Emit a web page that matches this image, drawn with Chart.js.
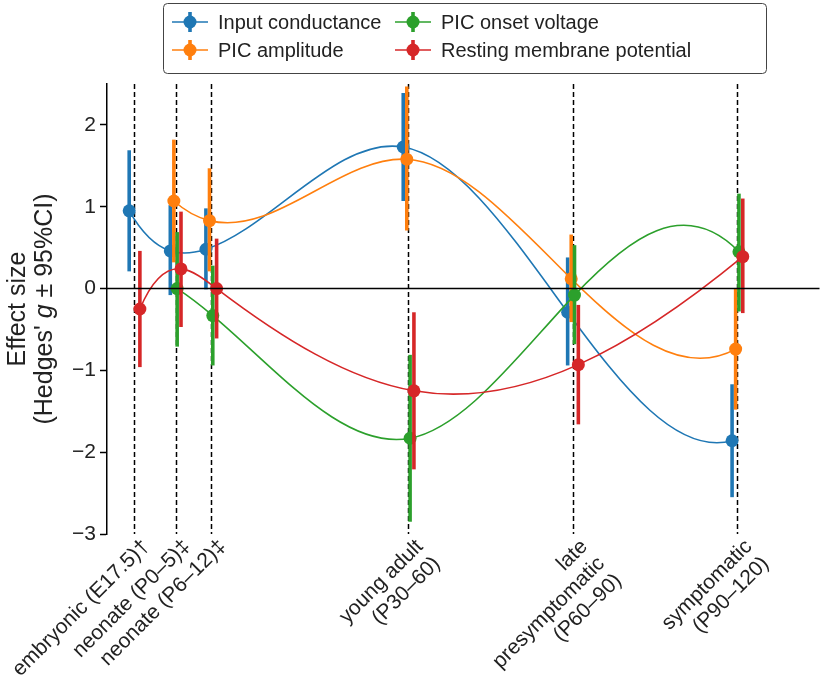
<!DOCTYPE html>
<html>
<head>
<meta charset="utf-8">
<script src="https://cdn.jsdelivr.net/npm/chart.js@4.4.1/dist/chart.umd.min.js"></script>
<style>
  html, body { margin: 0; padding: 0; background: #fff; }
  #wrap { width: 826px; height: 676px; }
</style>
</head>
<body>
<div id="wrap"><canvas id="myChart" width="826" height="676"></canvas></div>
<script>
// stages, x = rough age in days
const stageX = [-5, 2.5, 9, 45, 75, 105];
const stageLabels = [
  ['embryonic (E17.5)†'],
  ['neonate (P0–5)‡'],
  ['neonate (P6–12)‡'],
  ['young adult', '(P30–60)'],
  ['late', 'presymptomatic', '(P60–90)'],
  ['symptomatic', '(P90–120)']
];
const yTicks = [-3, -2, -1, 0, 1, 2];

// Hedges' g with 95% CI (null = not measured)
const inputG  = [0.95, 0.46, 0.48, 1.73, -0.29, -1.86];
const inputLo = [0.21, -0.08, -0.01, 1.07, -0.94, -2.55];
const inputHi = [1.69, 1.02, 0.98, 2.39, 0.38, -1.17];

const ampG  = [null, 1.07, 0.83, 1.58, 0.12, -0.74];
const ampLo = [null, 0.32, 0.21, 0.71, -0.41, -1.48];
const ampHi = [null, 1.82, 1.47, 2.47, 0.66, 0.00];

const onsetG  = [null, 0.00, -0.33, -1.83, -0.08, 0.45];
const onsetLo = [null, -0.71, -0.94, -2.85, -0.68, -0.28];
const onsetHi = [null, 0.69, 0.28, -0.81, 0.53, 1.16];

const rmpG  = [-0.25, 0.24, 0.00, -1.25, -0.93, 0.39];
const rmpLo = [-0.96, -0.47, -0.61, -2.21, -1.66, -0.30];
const rmpHi = [0.46, 0.94, 0.61, -0.29, -0.20, 1.10];

const FONT = '"Liberation Sans", Arial, Helvetica, sans-serif';
const dodge = [-0.95, -0.3, 0.3, 1.0];

const series = [
  { label: 'Input conductance', g: inputG, lo: inputLo, hi: inputHi, color: '#1f77b4' },
  { label: 'PIC amplitude', g: ampG, lo: ampLo, hi: ampHi, color: '#ff7f0e' },
  { label: 'PIC onset voltage', g: onsetG, lo: onsetLo, hi: onsetHi, color: '#2ca02c' },
  { label: 'Resting membrane potential', g: rmpG, lo: rmpLo, hi: rmpHi, color: '#d62728' }
];

function makeData(s, k) {
  let pts = [];
  for (let i = 0; i < stageX.length; i++) {
    if (s.g[i] === null) continue;
    pts.push({ x: stageX[i] + dodge[k], y: s.g[i], lo: s.lo[i], hi: s.hi[i] });
  }
  return pts;
}

const datasets = series.map((s, k) => ({
  label: s.label,
  data: makeData(s, k),
  borderColor: s.color,
  backgroundColor: s.color,
  borderWidth: 1.6,
  tension: 0.4,
  pointRadius: 6.5,
  pointBorderWidth: 0,
  pointBackgroundColor: s.color,
  order: 3 - k
}));

// small dense solver
function solve(A, b) {
  const n = b.length;
  for (let c = 0; c < n; c++) {
    let p = c;
    for (let r = c + 1; r < n; r++) if (Math.abs(A[r][c]) > Math.abs(A[p][c])) p = r;
    [A[c], A[p]] = [A[p], A[c]];
    [b[c], b[p]] = [b[p], b[c]];
    for (let r = c + 1; r < n; r++) {
      const f = A[r][c] / A[c][c];
      for (let k = c; k < n; k++) A[r][k] -= f * A[c][k];
      b[r] -= f * b[c];
    }
  }
  const x = new Array(n).fill(0);
  for (let r = n - 1; r >= 0; r--) {
    let s = b[r];
    for (let k = r + 1; k < n; k++) s -= A[r][k] * x[k];
    x[r] = s / A[r][r];
  }
  return x;
}

// not-a-knot cubic spline slopes through the point elements (pixel space)
function splineSlopes(xs, ys) {
  const n = xs.length;
  const h = [], dl = [];
  for (let i = 0; i < n - 1; i++) {
    h.push(xs[i + 1] - xs[i]);
    dl.push((ys[i + 1] - ys[i]) / h[i]);
  }
  let M = new Array(n).fill(0);
  if (n > 3) {
    const A = [], b = [];
    for (let i = 0; i < n; i++) { A.push(new Array(n).fill(0)); b.push(0); }
    A[0][0] = h[1]; A[0][1] = -(h[0] + h[1]); A[0][2] = h[0];
    for (let i = 1; i < n - 1; i++) {
      A[i][i - 1] = h[i - 1];
      A[i][i] = 2 * (h[i - 1] + h[i]);
      A[i][i + 1] = h[i];
      b[i] = 6 * (dl[i] - dl[i - 1]);
    }
    const m = n - 1;
    A[m][m - 2] = h[m - 1]; A[m][m - 1] = -(h[m - 2] + h[m - 1]); A[m][m] = h[m - 2];
    M = solve(A, b);
  }
  const s = [];
  for (let i = 0; i < n - 1; i++) s.push(dl[i] - h[i] * (2 * M[i] + M[i + 1]) / 6);
  const k = n - 1;
  s.push(dl[k - 1] + h[k - 1] * (M[k - 1] + 2 * M[k]) / 6);
  return s;
}

// error bars + smooth curve control points, per dataset
const errorBars = {
  id: 'errorBars',
  beforeDatasetDraw(chart, args) {
    const ctx = chart.ctx;
    const meta = args.meta;
    const ds = chart.data.datasets[args.index];
    const xs = chart.scales.x, ys = chart.scales.y;

    meta.dataset.updateControlPoints(chart.chartArea, 'x');
    const pts = meta.data;
    const px = pts.map(p => p.x), py = pts.map(p => p.y);
    const sl = splineSlopes(px, py);
    pts.forEach((p, i) => {
      const hl = i > 0 ? (px[i] - px[i - 1]) / 3 : 0;
      const hr = i < pts.length - 1 ? (px[i + 1] - px[i]) / 3 : 0;
      p.cp1x = px[i] - hl; p.cp1y = py[i] - sl[i] * hl;
      p.cp2x = px[i] + hr; p.cp2y = py[i] + sl[i] * hr;
    });

    ctx.save();
    ctx.strokeStyle = ds.borderColor;
    ctx.lineWidth = 3.6;
    ds.data.forEach(p => {
      const x = xs.getPixelForValue(p.x);
      ctx.beginPath();
      ctx.moveTo(x, ys.getPixelForValue(p.lo));
      ctx.lineTo(x, ys.getPixelForValue(p.hi));
      ctx.stroke();
    });
    ctx.restore();
  }
};

// dashed stage lines, zero line, stage labels, y title, legend
const decorations = {
  id: 'decorations',
  beforeDatasetsDraw(chart) {
    const ctx = chart.ctx, a = chart.chartArea, xs = chart.scales.x;
    ctx.save();
    ctx.strokeStyle = '#000';
    ctx.lineWidth = 1.5;
    ctx.setLineDash([5, 3]);
    stageX.forEach(v => {
      const px = Math.round(xs.getPixelForValue(v)) + 0.5;
      ctx.beginPath();
      ctx.moveTo(px, a.top);
      ctx.lineTo(px, a.bottom);
      ctx.stroke();
    });
    ctx.restore();
  },
  afterDatasetsDraw(chart) {
    const ctx = chart.ctx, a = chart.chartArea, ys = chart.scales.y;
    const y0 = ys.getPixelForValue(0);
    ctx.save();
    ctx.strokeStyle = '#000';
    ctx.lineWidth = 1.6;
    ctx.beginPath();
    ctx.moveTo(a.left, y0);
    ctx.lineTo(a.right, y0);
    ctx.stroke();
    ctx.restore();
  },
  afterDraw(chart) {
    const ctx = chart.ctx, a = chart.chartArea, xs = chart.scales.x;
    ctx.save();
    ctx.fillStyle = '#222';

    // stage labels, rotated 45 deg
    ctx.font = '21px ' + FONT;
    ctx.textAlign = 'right';
    ctx.textBaseline = 'top';
    stageLabels.forEach((lines, i) => {
      const px = xs.getPixelForValue(stageX[i]);
      ctx.save();
      ctx.translate(px + 4, a.bottom + 2);
      ctx.rotate(-Math.PI / 4);
      lines.forEach((t, j) => ctx.fillText(t, 0, j * 24));
      ctx.restore();
    });

    // y title with italic g
    const cy = (a.top + a.bottom) / 2;
    ctx.save();
    ctx.translate(0, cy);
    ctx.rotate(-Math.PI / 2);
    ctx.textBaseline = 'alphabetic';
    ctx.textAlign = 'center';
    ctx.font = '25px ' + FONT;
    ctx.fillText('Effect size', 0, 25);
    const p1 = '(Hedges\' ', p2 = 'g', p3 = ' ± 95%CI)';
    const w1 = ctx.measureText(p1).width, w3 = ctx.measureText(p3).width;
    ctx.font = 'italic 25px ' + FONT;
    const w2 = ctx.measureText(p2).width;
    let x = -(w1 + w2 + w3) / 2;
    ctx.textAlign = 'left';
    ctx.font = '25px ' + FONT;
    ctx.fillText(p1, x, 52);
    ctx.font = 'italic 25px ' + FONT;
    ctx.fillText(p2, x + w1, 52);
    ctx.font = '25px ' + FONT;
    ctx.fillText(p3, x + w1 + w2, 52);
    ctx.restore();

    // legend box, two columns
    const bx = 163, by = 3, bw = 603, bh = 70;
    ctx.fillStyle = 'rgba(255,255,255,0.9)';
    ctx.strokeStyle = '#444';
    ctx.lineWidth = 1;
    ctx.beginPath();
    ctx.roundRect(bx + 0.5, by + 0.5, bw, bh, 4);
    ctx.fill();
    ctx.stroke();
    const cols = [172, 395], rows = [22, 50];
    const slot = [[0, 0], [0, 1], [1, 0], [1, 1]]; // [col,row] per series
    ctx.font = '20px ' + FONT;
    ctx.textAlign = 'left';
    ctx.textBaseline = 'middle';
    series.forEach((s, k) => {
      const lx = cols[slot[k][0]], ly = rows[slot[k][1]];
      ctx.strokeStyle = s.color;
      ctx.fillStyle = s.color;
      ctx.lineWidth = 1.6;
      ctx.beginPath();
      ctx.moveTo(lx, ly);
      ctx.lineTo(lx + 36, ly);
      ctx.stroke();
      ctx.lineWidth = 3.6;
      ctx.beginPath();
      ctx.moveTo(lx + 18, ly - 10);
      ctx.lineTo(lx + 18, ly + 10);
      ctx.stroke();
      ctx.beginPath();
      ctx.arc(lx + 18, ly, 6.5, 0, Math.PI * 2);
      ctx.fill();
      ctx.fillStyle = '#222';
      ctx.fillText(s.label, lx + 46, ly + 1);
    });
    ctx.restore();
  }
};

const ctx = document.getElementById('myChart');
new Chart(ctx, {
  type: 'line',
  data: { datasets: datasets },
  options: {
    responsive: false,
    animation: false,
    layout: { padding: { top: 84, bottom: 142, left: 0, right: 2 } },
    scales: {
      x: { type: 'linear', display: false, min: -10, max: 120 },
      y: {
        min: -3,
        max: 2.5,
        afterBuildTicks: s => { s.ticks = yTicks.map(v => ({ value: v })); },
        afterFit: s => { s.width = 107; },
        border: { display: true, color: '#000', width: 1.5 },
        grid: { drawOnChartArea: false, drawTicks: true, tickLength: 7, tickColor: '#000', tickWidth: 1.5 },
        ticks: {
          color: '#222',
          padding: 4,
          font: { size: 21, family: FONT },
          callback: v => String(v).replace('-', '−')
        }
      }
    },
    plugins: {
      legend: { display: false },
      tooltip: { enabled: false }
    }
  },
  plugins: [errorBars, decorations]
});
</script>
</body>
</html>
